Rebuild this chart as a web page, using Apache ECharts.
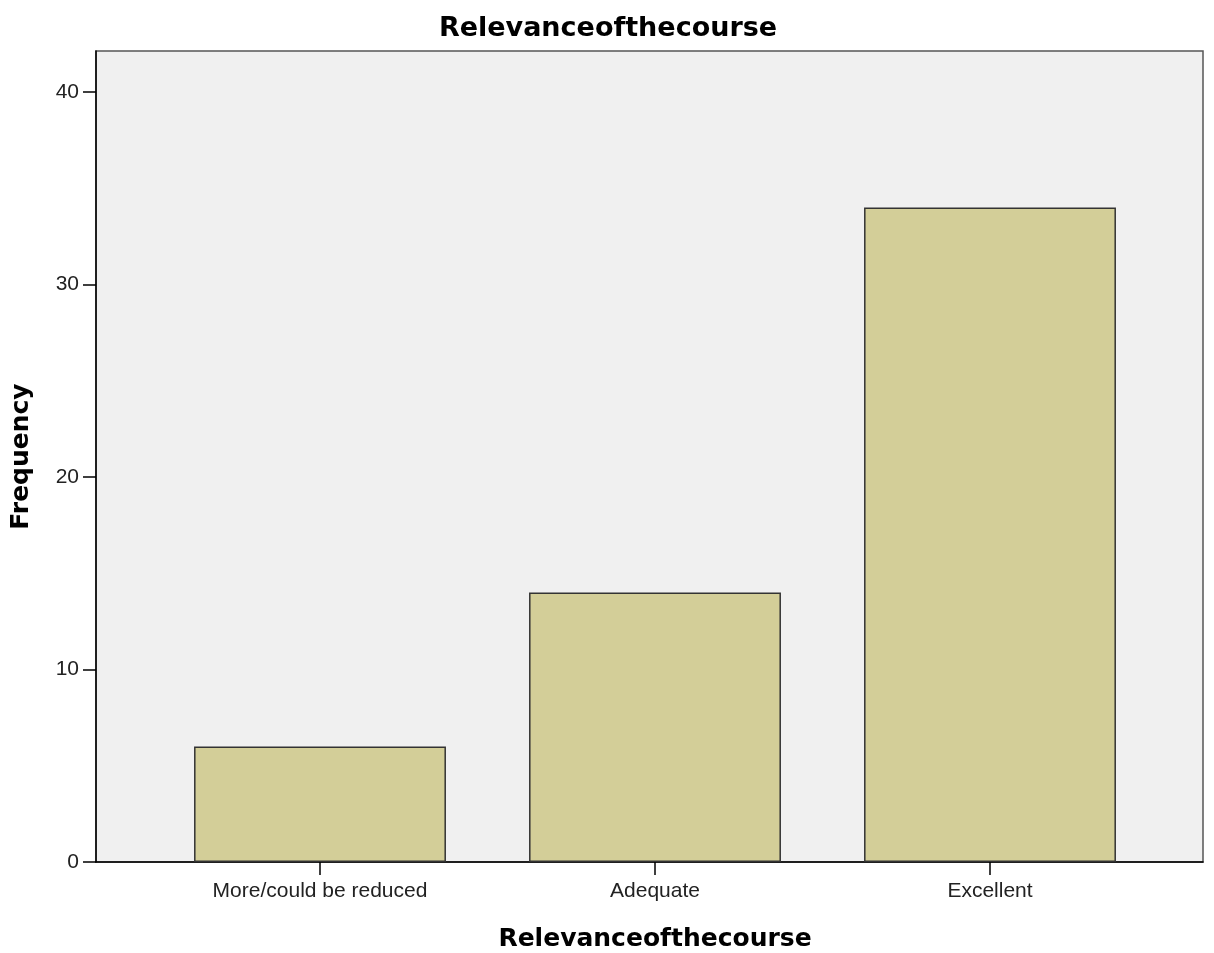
<!DOCTYPE html>
<html>
<head>
<meta charset="utf-8">
<script src="https://cdn.jsdelivr.net/npm/echarts@6/dist/echarts.min.js"></script>
<style>html,body{margin:0;padding:0;background:#fff;}#c{width:1214px;height:953px;}</style>
</head>
<body>
<div id="c"></div>
<script>
const categories = ['More/could be reduced', 'Adequate', 'Excellent'];
const frequencies = [6, 14, 34];
const yTicks = [0, 10, 20, 30, 40];

const labelFont = 'Liberation Sans, Arial';
const boldFont = 'DejaVu Sans';
const yMax = 42.13;

const chart = echarts.init(document.getElementById('c'), null, {renderer: 'canvas'});
chart.setOption({
  backgroundColor: '#ffffff',
  animation: false,
  title: {
    text: 'Relevanceofthecourse',
    left: 603, top: 10, textAlign: 'center',
    textStyle: {fontFamily: boldFont, fontWeight: 'bold', fontSize: 27, color: '#000'}
  },
  grid: [
    {left: 96, right: 11, top: 51, bottom: 91, outerBoundsMode: 'none', containLabel: false,
     show: true, backgroundColor: '#f0f0f0', borderColor: '#555', borderWidth: 1.5},
    {left: 152.5, right: 56.5, top: 51, bottom: 91, outerBoundsMode: 'none', containLabel: false}
  ],
  xAxis: [
    {
      gridIndex: 0, type: 'value', min: 0, max: 1,
      axisLine: {show: true, onZero: false, lineStyle: {color: '#000', width: 1.5}},
      axisTick: {show: false}, axisLabel: {show: false}, splitLine: {show: false}
    },
    {
      gridIndex: 1, type: 'category', data: categories,
      name: 'Relevanceofthecourse',
      nameLocation: 'middle', nameGap: 65,
      nameTextStyle: {fontFamily: boldFont, fontWeight: 'bold', fontSize: 25, color: '#000'},
      axisLine: {show: false},
      axisTick: {show: true, alignWithLabel: true, length: 13, lineStyle: {color: '#000', width: 1.5}},
      axisLabel: {fontFamily: labelFont, fontSize: 21, color: '#222', margin: 19}
    }
  ],
  yAxis: [
    {
      gridIndex: 0, type: 'value', min: 0, max: yMax, interval: 10,
      name: 'Frequency',
      nameLocation: 'middle', nameGap: 62, nameRotate: 90,
      nameTextStyle: {fontFamily: boldFont, fontWeight: 'bold', fontSize: 25, color: '#000'},
      axisLine: {show: true, lineStyle: {color: '#000', width: 1.5}},
      axisTick: {show: true, length: 13, customValues: yTicks, lineStyle: {color: '#000', width: 1.5}},
      axisLabel: {fontFamily: labelFont, fontSize: 21, color: '#222', margin: 17, customValues: yTicks},
      splitLine: {show: false}
    },
    {
      gridIndex: 1, type: 'value', min: 0, max: yMax, show: false, splitLine: {show: false}
    }
  ],
  series: [{
    type: 'bar',
    xAxisIndex: 1, yAxisIndex: 1,
    data: frequencies,
    barWidth: '75.2%',
    itemStyle: {color: '#d3ce98', borderColor: '#333', borderWidth: 1.5}
  }]
});
</script>
</body>
</html>
